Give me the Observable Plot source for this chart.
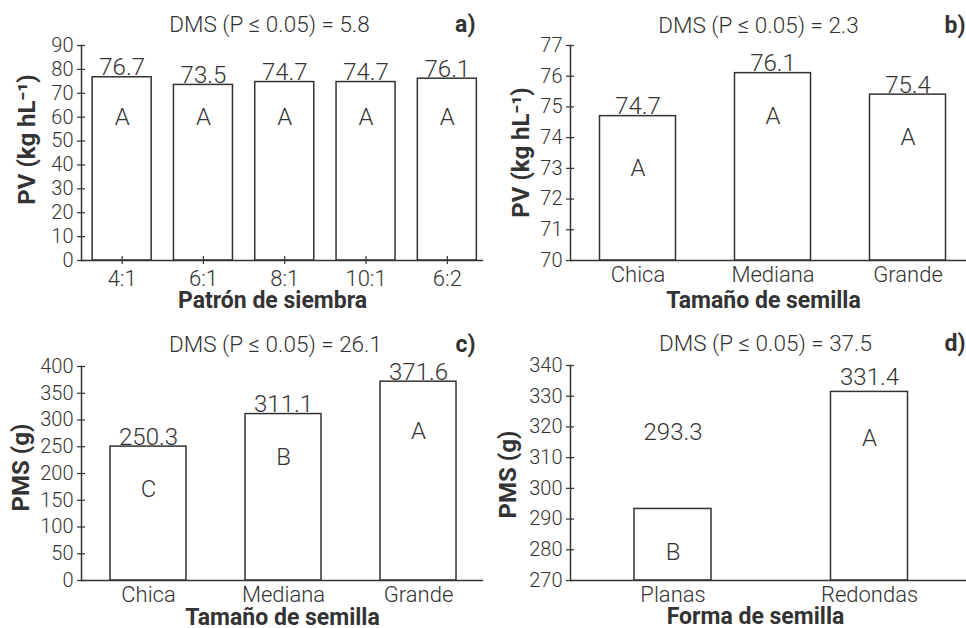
<!DOCTYPE html>
<html><head><meta charset="utf-8">
<script src="https://cdn.jsdelivr.net/npm/d3@7"></script>
<script src="https://cdn.jsdelivr.net/npm/@observablehq/plot@0.6"></script>
<style>
body{margin:0;background:#fff;}
#wrap{position:relative;width:966px;height:628px;overflow:hidden;background:#fff;}
</style></head><body><div id="wrap"></div>
<script>
// ---- data ----
const patron = ["4:1", "6:1", "8:1", "10:1", "6:2"];
const pvPatron = [76.7, 73.5, 74.7, 74.7, 76.1];
const letrasPvPatron = ["A", "A", "A", "A", "A"];
const letrasPvPatronAt = [60, 60, 60, 60, 60];
const ticksPvPatron = [0, 10, 20, 30, 40, 50, 60, 70, 80, 90];

const tamano = ["Chica", "Mediana", "Grande"];
const pvTamano = [74.7, 76.1, 75.4];
const letrasPvTamano = ["A", "A", "A"];
const letrasPvTamanoAt = [73.0, 74.7, 74.0];
const ticksPvTamano = [70, 71, 72, 73, 74, 75, 76, 77];

const pmsTamano = [250.3, 311.1, 371.6];
const letrasPmsTamano = ["C", "B", "A"];
const letrasPmsTamanoAt = [170, 231, 278];
const ticksPmsTamano = [0, 50, 100, 150, 200, 250, 300, 350, 400];

const forma = ["Planas", "Redondas"];
const pmsForma = [293.3, 331.4];
const letrasPmsForma = ["B", "A"];
const letrasPmsFormaAt = [279.3, 316.2];
const etiquetasPmsFormaAt = [318.4, 336.2];
const ticksPmsForma = [270, 280, 290, 300, 310, 320, 330, 340];

const INK = "#333";

function panel(o, L) {
  const data = o.cats.map((c, i) => ({
    cat: c, val: o.vals[i], letter: o.letters[i], letterAt: o.lettersAt[i],
    labelAt: o.labelsAt ? o.labelsAt[i] : null
  }));
  const anchorText = (txt, px, py, extra) => Plot.text([txt], Object.assign({
    frameAnchor: "top-left", dx: px - L.ml, dy: py - L.mt, text: d => d,
    textAnchor: "middle", lineAnchor: "middle"
  }, extra));
  const valueMark = o.labelsAt
    ? Plot.text(data, {x: "cat", y: "labelAt", text: d => d.val.toFixed(1), fontSize: 24, lineAnchor: "middle"})
    : Plot.text(data, {x: "cat", y: "val", text: d => d.val.toFixed(1), fontSize: 24, lineAnchor: "bottom", dy: -2});
  const svg = Plot.plot({
    width: 483, height: 314,
    marginLeft: L.ml, marginTop: L.mt, marginBottom: L.mb, marginRight: 0,
    style: {fontFamily: "Roboto, sans-serif", fontWeight: 300, color: INK, background: "transparent", overflow: "visible"},
    x: {domain: o.cats, range: L.xRange, paddingInner: L.pad, paddingOuter: L.pad / 2, round: false},
    y: {domain: o.yDomain},
    marks: [
      Plot.barY(data, {x: "cat", y1: o.yDomain[0], y2: "val", fill: "white", stroke: INK, strokeWidth: 1.5}),
      Plot.ruleY([o.yDomain[0]], {stroke: INK, strokeWidth: 1.5}),
      Plot.frame({anchor: "left", stroke: INK, strokeWidth: 1.5}),
      Plot.axisY({ticks: o.yTicks, tickFormat: d => `${d}`, tickSize: 8, dx: 4, tickPadding: 4, fontSize: 20, label: null, strokeWidth: 1.2}),
      Plot.axisX({tickSize: L.xTick ? 8 : 0, dy: L.xTick ? -4 : 0, tickPadding: 6, fontSize: 22, label: null, strokeWidth: 1.2}),
      valueMark,
      Plot.text(data, {x: "cat", y: "letterAt", text: "letter", fontSize: 24, lineAnchor: "middle"}),
      anchorText(o.title, L.title[0], L.title[1], {fontSize: 22.5}),
      anchorText(o.tag, L.tag[0], L.tag[1], {fontSize: 23, fontWeight: "bold", textAnchor: "end"}),
      anchorText(o.ylabel, L.ylabel[0], L.ylabel[1], {fontSize: 24, fontWeight: "bold", rotate: -90}),
      anchorText(o.xlabel, L.xlabel[0], L.xlabel[1], {fontSize: 23, fontWeight: "bold"})
    ]
  });
  svg.style.position = "absolute";
  svg.style.left = L.left + "px";
  svg.style.top = L.top + "px";
  svg.style.maxWidth = "none";
  document.getElementById("wrap").appendChild(svg);
}

panel({
  cats: patron, vals: pvPatron, letters: letrasPvPatron, lettersAt: letrasPvPatronAt,
  yDomain: [0, 90], yTicks: ticksPvPatron,
  title: "DMS (P ≤ 0.05) = 5.8", tag: "a)", ylabel: "PV (kg hL⁻¹)", xlabel: "Patrón de siembra"
}, {left: 0, top: 0, ml: 81, mt: 45, mb: 54, xRange: [81, 487.5], pad: 0.274, xTick: true,
    title: [269, 24.5], tag: [475, 24.5], ylabel: [27, 139], xlabel: [272, 300]});

panel({
  cats: tamano, vals: pvTamano, letters: letrasPvTamano, lettersAt: letrasPvTamanoAt,
  yDomain: [70, 77], yTicks: ticksPvTamano,
  title: "DMS (P ≤ 0.05) = 2.3", tag: "b)", ylabel: "PV (kg hL⁻¹)", xlabel: "Tamaño de semilla"
}, {left: 483, top: 0, ml: 87, mt: 45, mb: 54, xRange: [87, 492], pad: 0.437, xTick: false,
    title: [275, 25], tag: [482, 25], ylabel: [37.5, 152], xlabel: [280, 300]});

panel({
  cats: tamano, vals: pmsTamano, letters: letrasPmsTamano, lettersAt: letrasPmsTamanoAt,
  yDomain: [0, 400], yTicks: ticksPmsTamano,
  title: "DMS (P ≤ 0.05) = 26.1", tag: "c)", ylabel: "PMS (g)", xlabel: "Tamaño de semilla"
}, {left: 0, top: 314, ml: 81, mt: 52, mb: 48, xRange: [80.5, 485.5], pad: 0.437, xTick: false,
    title: [275, 30], tag: [475, 30], ylabel: [21, 153], xlabel: [282, 303]});

panel({
  cats: forma, vals: pmsForma, letters: letrasPmsForma, lettersAt: letrasPmsFormaAt, labelsAt: etiquetasPmsFormaAt,
  yDomain: [270, 340], yTicks: ticksPmsForma,
  title: "DMS (P ≤ 0.05) = 37.5", tag: "d)", ylabel: "PMS (g)", xlabel: "Forma de semilla"
}, {left: 483, top: 314, ml: 87, mt: 51, mb: 48, xRange: [91.25, 484.25], pad: 0.608, xTick: false,
    title: [282, 29], tag: [482, 29], ylabel: [25, 160], xlabel: [272, 302]});
</script></body></html>
